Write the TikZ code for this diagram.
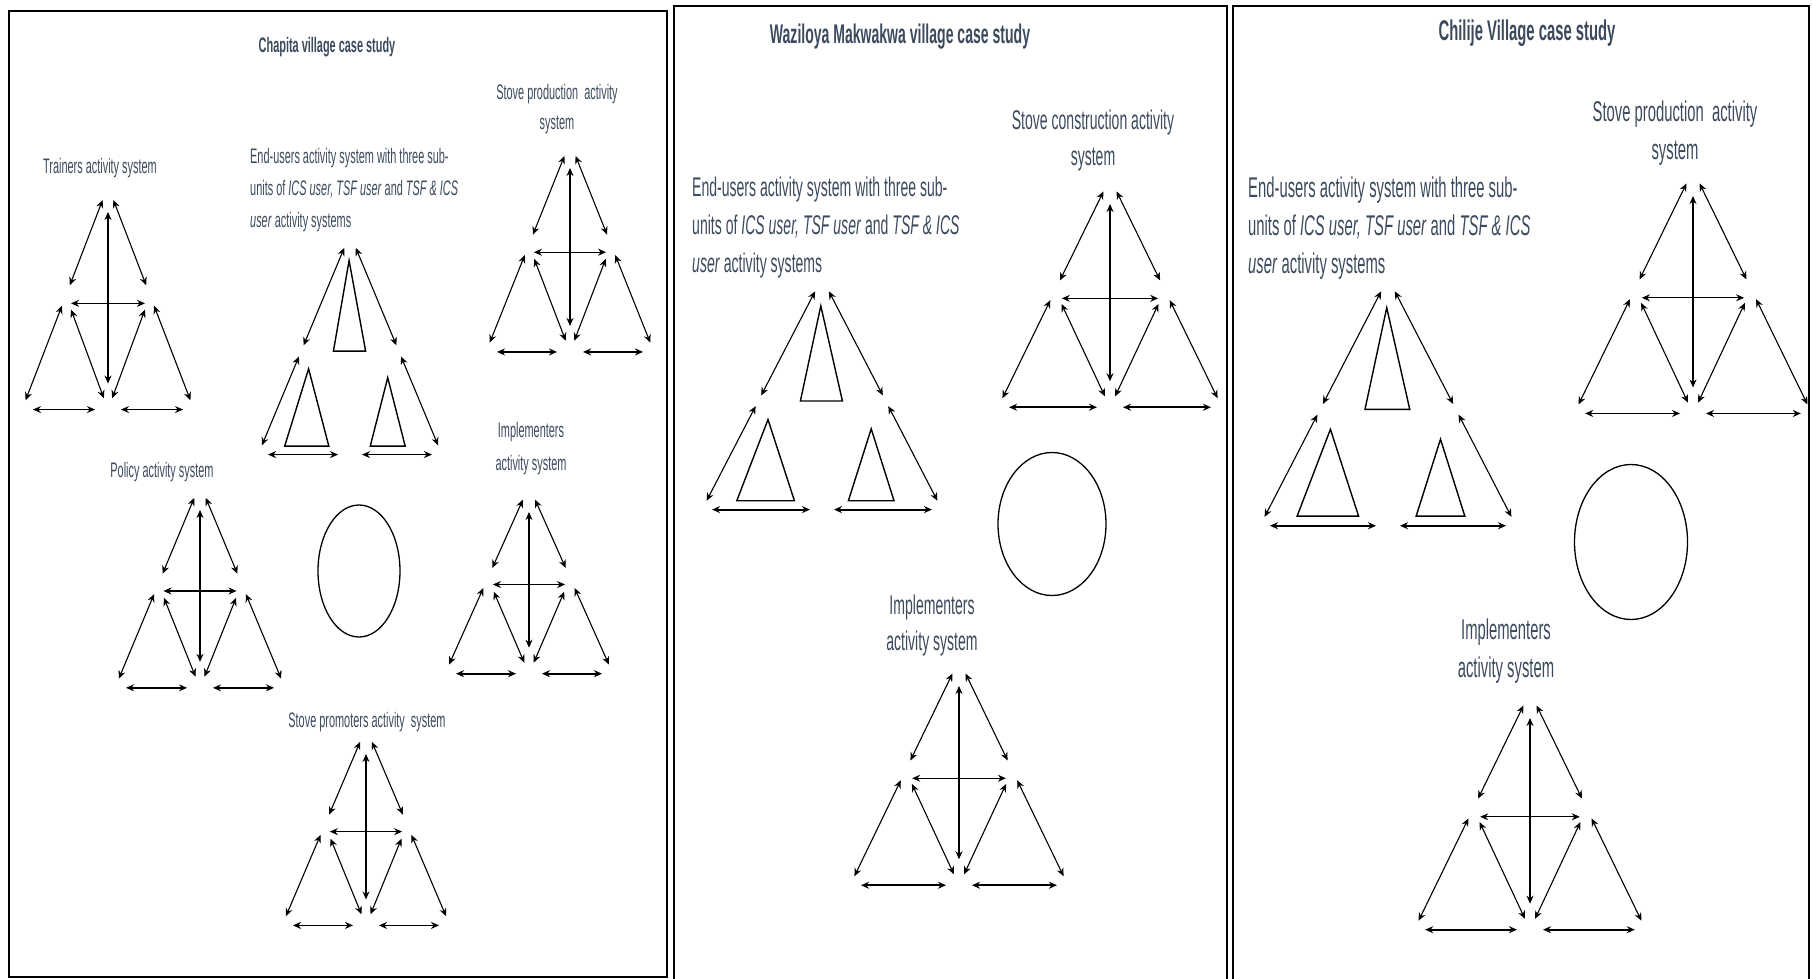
\documentclass[tikz,border=0pt]{standalone}
\usepackage{fontspec}
\setmainfont{Liberation Sans}[FakeStretch=0.52]
\usetikzlibrary{arrows.meta,shapes.geometric}
\definecolor{labc}{RGB}{60,74,94}
\tikzset{
  dbl/.style={{Stealth[length=8pt,width=7pt]}-{Stealth[length=8pt,width=7pt]}, line width=1.1pt},
  dblb/.style={dbl, line width=1.8pt},
  subtri/.style={draw, line width=1.4pt, line join=miter},
  panel/.style={draw, line width=2.5pt},
  ring/.style={draw, ellipse, line width=1.3pt, inner sep=0pt},
  labA/.style={text=labc, inner sep=0pt, font=\fontsize{21}{32}\selectfont},
  labB/.style={text=labc, inner sep=0pt, font=\fontsize{27}{36}\selectfont},
  labC/.style={text=labc, inner sep=0pt, font=\fontsize{28.5}{38}\selectfont},
  fullas/.pic={
    \coordinate (-T) at (0,0);
    \coordinate (-ML) at (-0.49,0.49);
    \coordinate (-MR) at (0.49,0.49);
    \coordinate (-HL) at (-0.43,0.525);
    \coordinate (-HR) at (0.43,0.525);
    \coordinate (-BL) at (-1,1);
    \coordinate (-BC) at (0,1);
    \coordinate (-BR) at (1,1);
    \draw[dbl,shorten <=15pt,shorten >=11pt] (-T) -- (-ML);
    \draw[dbl,shorten <=15pt,shorten >=11pt] (-T) -- (-MR);
    \draw[dbl,shorten <=26pt,shorten >=26pt] (-T) -- (-BC);
    \draw[dbl] (-HL) -- (-HR);
    \draw[dbl,shorten <=11pt,shorten >=10pt] (-ML) -- (-BL);
    \draw[dbl,shorten <=11pt,shorten >=10pt] (-MR) -- (-BR);
    \draw[dbl,shorten <=15pt,shorten >=12pt] (-ML) -- (-BC);
    \draw[dbl,shorten <=15pt,shorten >=12pt] (-MR) -- (-BC);
    \draw[dblb,shorten <=11pt,shorten >=13pt] (-BL) -- (-BC);
    \draw[dblb,shorten <=13pt,shorten >=11pt] (-BC) -- (-BR);
  },
  euas/.pic={
    \coordinate (-T) at (0,0);
    \coordinate (-ML) at (-0.53,0.53);
    \coordinate (-MR) at (0.53,0.53);
    \coordinate (-BL) at (-1,1);
    \coordinate (-BC) at (0,1);
    \coordinate (-BR) at (1,1);
    \draw[dbl,shorten <=15pt,shorten >=6pt] (-T) -- (-ML);
    \draw[dbl,shorten <=15pt,shorten >=6pt] (-T) -- (-MR);
    \draw[dbl,shorten <=6pt,shorten >=10pt] (-ML) -- (-BL);
    \draw[dbl,shorten <=6pt,shorten >=10pt] (-MR) -- (-BR);
    \draw[dblb,shorten <=10pt,shorten >=12pt] (-BL) -- (-BC);
    \draw[dblb,shorten <=12pt,shorten >=10pt] (-BC) -- (-BR);
    \draw[subtri] (-0.01,0.12) -- (-0.18,0.53) -- (0.17,0.53) -- cycle;
    \draw[subtri] (-0.45,0.61) -- (-0.71,0.96) -- (-0.23,0.96) -- cycle;
    \draw[subtri] (0.41,0.65) -- (0.22,0.96) -- (0.60,0.96) -- cycle;
  }
}
\begin{document}
\begin{tikzpicture}[x=1pt,y=-1pt]
\useasboundingbox (0,0) rectangle (1812,979);
\begin{scope}
\clip (0,0) rectangle (1812,979);
% panels
\draw[panel] (9,11) rectangle (667,977);
\draw[panel] (674,1000) -- (674,6) -- (1227,6) -- (1227,1000);
\draw[panel] (1233,1000) -- (1233,6) -- (1809,6) -- (1809,1000);

% ---------- Panel 1 ----------
\node[labA, font=\fontsize{21}{32}\selectfont\bfseries] (t1) at (327,47) {Chapita village case study};
\node[labA] (ltr) at (100,168) {Trainers activity system};
\node[labA, align=left, anchor=west] (leu1) at (250,190) {End-users activity system with three sub-\\units of \textit{ICS user,} \textit{TSF user} and \textit{TSF \& ICS}\\\textit{user} activity systems};
\node[labA, align=center, font=\fontsize{21}{30}\selectfont] (lsp1) at (557,109) {Stove production~ activity\\system};
\node[labA] (lpol) at (162,472) {Policy activity system};
\node[labA, align=center, font=\fontsize{21}{33}\selectfont] (lim1) at (531,449) {Implementers\\activity system};
\node[labA] (lpro) at (367,722) {Stove promoters activity~ system};

\pic[xscale=86,yscale=224] (tr) at (108,186) {fullas};
\pic[xscale=84,yscale=210] (sp1) at (570,142) {fullas};
\pic[xscale=85,yscale=204] (pol) at (200,484) {fullas};
\pic[xscale=84,yscale=188] (im1) at (529,486) {fullas};
\pic[xscale=84,yscale=198] (pro) at (366,728) {fullas};
\pic[xscale=92,yscale=221] (eu1) at (350,234) {euas};
\node[ring, minimum width=82pt, minimum height=132pt] (c1) at (359,571) {};

% ---------- Panel 2 ----------
\node[labB, font=\fontsize{27}{36}\selectfont\bfseries] (t2) at (900,37) {Waziloya Makwakwa village case study};
\node[labB, align=left, anchor=west, font=\fontsize{27}{38}\selectfont] (leu2) at (692,228) {End-users activity system with three sub-\\units of \textit{ICS user,} \textit{TSF user} and \textit{TSF \& ICS}\\\textit{user} activity systems};
\node[labB, align=center] (lsc) at (1093,141) {Stove construction activity\\system};
\node[labB, align=center] (lim2) at (932,626) {Implementers\\activity system};

\pic[xscale=120,yscale=232] (eu2) at (822,278) {euas};
\pic[xscale=112,yscale=230] (sc) at (1110,178) {fullas};
\pic[xscale=109,yscale=226] (im2) at (959,660) {fullas};
\node[ring, minimum width=108pt, minimum height=143pt] (c2) at (1052,524) {};

% ---------- Panel 3 ----------
\node[labC, font=\fontsize{28.5}{38}\selectfont\bfseries] (t3) at (1527,33) {Chilije Village case study};
\node[labC, align=left, anchor=west] (leu3) at (1248,228) {End-users activity system with three sub-\\units of \textit{ICS user,} \textit{TSF user} and \textit{TSF \& ICS}\\\textit{user} activity systems};
\node[labC, align=center] (lsp3) at (1675,133) {Stove production~ activity\\system};
\node[labC, align=center] (lim3) at (1506,651) {Implementers\\activity system};

\pic[xscale=128,yscale=248] (eu3) at (1388,278) {euas};
\pic[xscale=119,yscale=244] (sp3) at (1693,170) {fullas};
\pic[xscale=116,yscale=238] (im3) at (1530,692) {fullas};
\node[ring, minimum width=113pt, minimum height=155pt] (c3) at (1631,542) {};
\end{scope}
\end{tikzpicture}
\end{document}
